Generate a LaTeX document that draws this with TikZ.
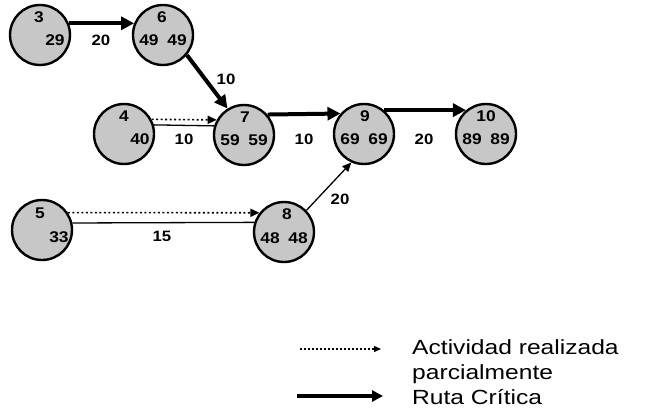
\documentclass[tikz,border=0pt]{standalone}
\usepackage{fontspec}
\setmainfont{Liberation Sans}
\newfontfamily\legfont[FakeStretch=1.2]{Liberation Sans}
\newfontfamily\numfont[FakeStretch=1.12]{Liberation Sans}
\usetikzlibrary{arrows.meta}
\begin{document}
\begin{tikzpicture}[x=1pt,y=-1pt,
  evt/.style={circle,draw=black,line width=2.4pt,fill=black!22,minimum size=60pt,inner sep=0pt},
  num/.style={font=\numfont\bfseries\fontsize{15.5}{15.5}\selectfont,inner sep=0pt},
  lbl/.style={font=\numfont\bfseries\fontsize{15}{15}\selectfont,inner sep=0pt},
  crit/.style={line width=4pt,-{Triangle[length=13pt,width=13pt]}},
  thin/.style={line width=1.3pt},
  thinarr/.style={line width=1.3pt,-{Triangle[length=9pt,width=8pt]}},
  part/.style={line width=1.6pt,dash pattern=on 2pt off 2.5pt,-{Triangle[length=9pt,width=8pt]}},
  legtxt/.style={font=\legfont\fontsize{20.5}{25}\selectfont,anchor=west,inner sep=0pt,align=left}]
\useasboundingbox (0,0) rectangle (647,412);
% events
\node[evt] (n3) at (40,35) {};
\node[evt] (n6) at (163,35) {};
\node[evt] (n4) at (124,134) {};
\node[evt] (n7) at (244,135) {};
\node[evt] (n9) at (364,134) {};
\node[evt] (n10) at (486,134) {};
\node[evt] (n5) at (42,230) {};
\node[evt] (n8) at (284,232) {};
% numbers
\node[num] (t3) at ([xshift=-1pt,yshift=18pt]n3.center) {3};
\node[num] (b3r) at ([xshift=15pt,yshift=-5pt]n3.center) {29};
\node[num] (t6) at ([xshift=-1pt,yshift=18pt]n6.center) {6};
\node[num] (b6l) at ([xshift=-14pt,yshift=-5pt]n6.center) {49};
\node[num] (b6r) at ([xshift=14pt,yshift=-5pt]n6.center) {49};
\node[num] (t4) at ([yshift=18pt]n4.center) {4};
\node[num] (b4r) at ([xshift=16pt,yshift=-5pt]n4.center) {40};
\node[num] (t7) at ([xshift=1pt,yshift=18pt]n7.center) {7};
\node[num] (b7l) at ([xshift=-14pt,yshift=-5pt]n7.center) {59};
\node[num] (b7r) at ([xshift=14pt,yshift=-5pt]n7.center) {59};
\node[num] (t9) at ([xshift=1pt,yshift=18pt]n9.center) {9};
\node[num] (b9l) at ([xshift=-14pt,yshift=-5pt]n9.center) {69};
\node[num] (b9r) at ([xshift=14pt,yshift=-5pt]n9.center) {69};
\node[num] (t10) at ([xshift=0pt,yshift=18pt]n10.center) {10};
\node[num] (b10l) at ([xshift=-14pt,yshift=-5pt]n10.center) {89};
\node[num] (b10r) at ([xshift=14pt,yshift=-5pt]n10.center) {89};
\node[num] (t5) at ([xshift=-2pt,yshift=17pt]n5.center) {5};
\node[num] (b5r) at ([xshift=17pt,yshift=-7pt]n5.center) {33};
\node[num] (t8) at ([xshift=3pt,yshift=18pt]n8.center) {8};
\node[num] (b8l) at ([xshift=-14pt,yshift=-6pt]n8.center) {48};
\node[num] (b8r) at ([xshift=14pt,yshift=-6pt]n8.center) {48};
% connectors
\draw[crit] (n3.22) -- (n6.158);
\draw[crit] (n6.-40) -- (n7.122);
\draw[part] (n4.28) -- (n7.151);
\draw[thin] (n4.17) -- (n7.163);
\draw[crit] (n7.41) -- (n9.139);
\draw[crit] (n9.50) -- (n10.130);
\draw[part] (n5.34) -- (n8.142);
\draw[thin] (n5.13) -- (n8.162);
\draw[thinarr] (n8.44) -- (n9.246);
% durations
\node[lbl] (d36) at (101,40) {20};
\node[lbl] (d67) at (226,79) {10};
\node[lbl] (d47) at (184,139) {10};
\node[lbl] (d79) at (304,139) {10};
\node[lbl] (d910) at (424,139) {20};
\node[lbl] (d58) at (162,236) {15};
\node[lbl] (d89) at (340,199) {20};
% legend
\coordinate (p1) at (300,349);
\coordinate (p2) at (381,349);
\coordinate (c1) at (297,396);
\coordinate (c2) at (383,396);
\draw[line width=1.3pt,dash pattern=on 1.5pt off 2.5pt,-{Triangle[length=7pt,width=6pt]}] (p1) -- (p2);
\draw[line width=4pt,-{Triangle[length=11pt,width=11pt]}] (c1) -- (c2);
\node[legtxt] (l1) at (412,362) {Actividad realizada\\parcialmente};
\node[legtxt] (l2) at (412,397) {Ruta Crítica};
\end{tikzpicture}
\end{document}
